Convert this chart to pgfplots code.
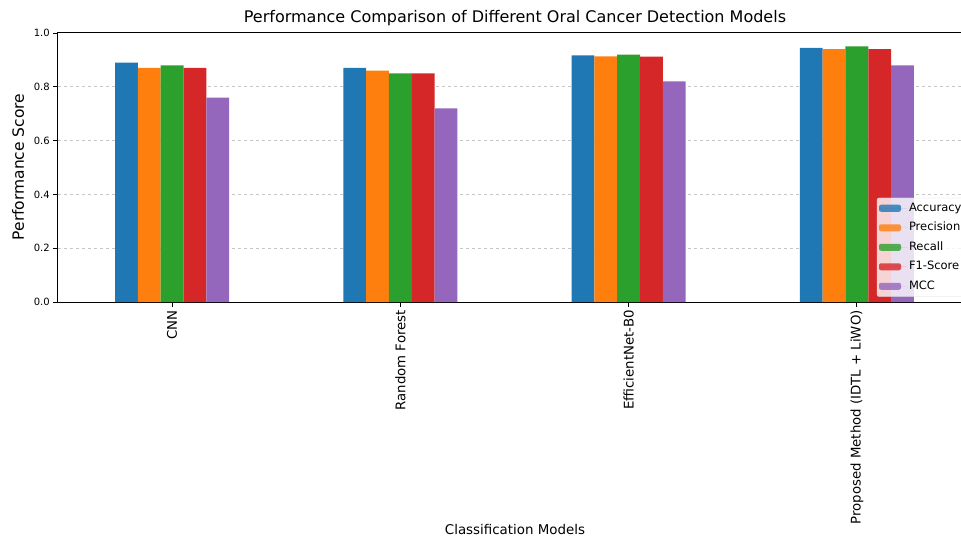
\documentclass[border=0pt]{standalone}
\usepackage{fontspec}
\setmainfont{DejaVu Sans}
\usepackage{pgfplots}
\pgfplotsset{compat=1.18}
\definecolor{c1}{HTML}{1F77B4}
\definecolor{c2}{HTML}{FF7F0E}
\definecolor{c3}{HTML}{2CA02C}
\definecolor{c4}{HTML}{D62728}
\definecolor{c5}{HTML}{9467BD}
\begin{document}
\begin{tikzpicture}
\begin{axis}[
  scale only axis, width=913pt, height=269pt,
  xmin=-0.5, xmax=3.5, ymin=0, ymax=1,
  ybar, bar width=0.1,
  xtick={0,1,2,3},
  xticklabels={CNN, Random Forest, EfficientNet-B0, {Proposed Method (IDTL + LiWO)}},
  x tick label style={rotate=90, anchor=east, font=\fontsize{13.3}{15}\selectfont},
  ytick={0,0.2,0.4,0.6,0.8,1},
  yticklabel style={/pgf/number format/fixed, /pgf/number format/fixed zerofill, /pgf/number format/precision=1},
  y tick label style={font=\fontsize{10}{12}\selectfont},
  /pgf/number format/assume math mode=true,
  tick pos=left, tick align=outside, major tick length=4.7pt,
  tick style={black, line width=0.8pt},
  extra y ticks={0.2,0.4,0.6,0.8}, extra y tick labels={},
  extra y tick style={ymajorgrids=true, major tick length=0pt},
  grid style={dashed, gray!45, line width=0.6pt},
  axis line style={black, line width=1pt},
  legend cell align=left,
  legend image code/.code={\draw[#1,/tikz/.cd,draw=none] (0pt,-3.5pt) rectangle (22pt,3.5pt); \path (0pt,0pt) -- (28pt,0pt);},
  legend style={at={(1,0)}, anchor=south east, xshift=-5.3pt, yshift=5.3pt,
    draw=gray!30, fill=white, fill opacity=0.8, text opacity=1, rounded corners=2pt,
    font=\fontsize{11.5}{13}\selectfont, inner xsep=2pt, inner ysep=3pt,
    nodes={inner sep=2pt, text height=8pt, text depth=2.5pt},
    row sep=5pt},
]
\addplot[bar shift=-0.2, fill=c1, draw=none] coordinates {(0,0.89) (1,0.87) (2,0.917) (3,0.945)};
\addplot[bar shift=-0.1, fill=c2, draw=none] coordinates {(0,0.87) (1,0.86) (2,0.913) (3,0.94)};
\addplot[bar shift=0, fill=c3, draw=none] coordinates {(0,0.88) (1,0.85) (2,0.92) (3,0.95)};
\addplot[bar shift=0.1, fill=c4, draw=none] coordinates {(0,0.87) (1,0.85) (2,0.912) (3,0.94)};
\addplot[bar shift=0.2, fill=c5, draw=none] coordinates {(0,0.76) (1,0.72) (2,0.82) (3,0.88)};
\legend{Accuracy, Precision, Recall, F1-Score, MCC}
\end{axis}
\node[font=\fontsize{16}{19}\selectfont] at (457pt,284pt) {Performance Comparison of Different Oral Cancer Detection Models};
\node[font=\fontsize{13.4}{16}\selectfont] at (457pt,-228pt) {Classification Models};
\node[font=\fontsize{15.5}{18}\selectfont, rotate=90] at (-40pt,135pt) {Performance Score};
\pgfresetboundingbox
\path[use as bounding box] (-58pt,-238pt) rectangle (903pt,302pt);
\end{tikzpicture}
\end{document}
